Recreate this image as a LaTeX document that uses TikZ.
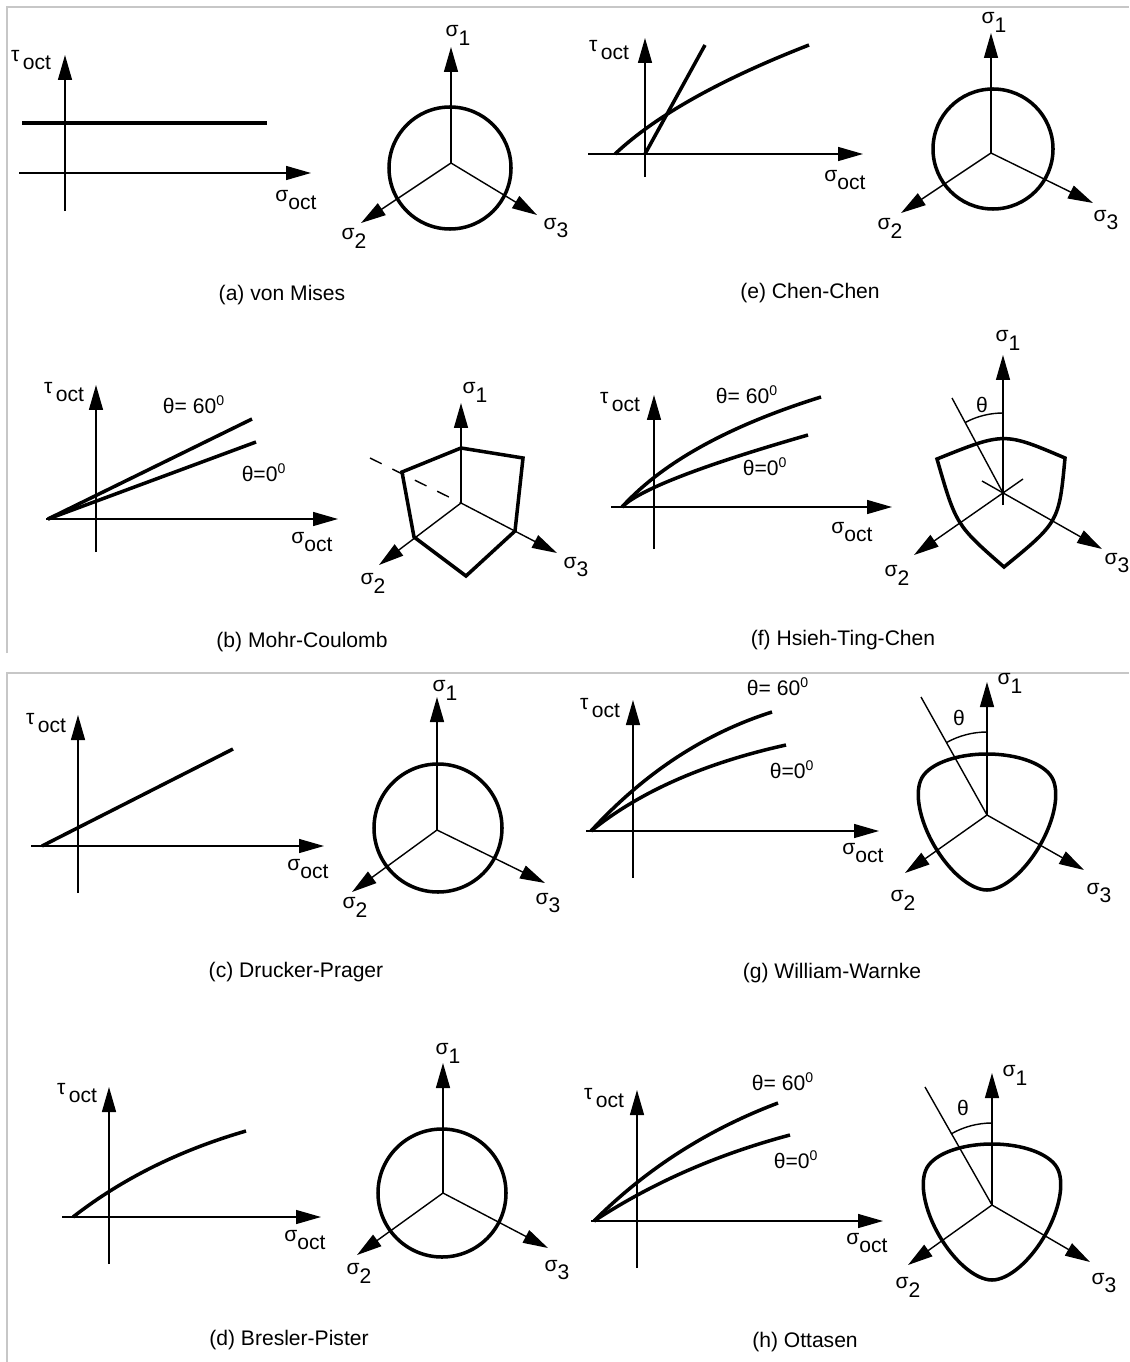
\documentclass[tikz,border=0pt]{standalone}
\usepackage{fontspec}
\setmainfont{Liberation Sans}
\usetikzlibrary{arrows.meta, calc}

\newcommand{\gsub}[2]{#1\raisebox{-0.8ex}{#2}}

\begin{document}
\begin{tikzpicture}[x=0.02cm, y=-0.02cm, font=\fontsize{12}{14}\selectfont,
  ax/.style={line width=0.8pt, -{Triangle[length=5mm, width=2.8mm]}},
  axline/.style={line width=0.8pt},
  yld/.style={line width=2pt, line join=round},
  lbl/.style={inner sep=0pt},
  frm/.style={draw=black!22, line width=0.8pt},
  declare function={lode(\t)=cos(acos(cos(3*(\t-90)))/3);
    wwr(\c)=10*(285.6*\c+35.25*sqrt(76.16*\c*\c+3.05))/(76.16*\c*\c+22.09);}]
\useasboundingbox (0,0) rectangle (1129,1362);
% frames
\draw[frm] (7,653) -- (7,7) -- (1129,7);
\draw[frm] (7,1362) -- (7,673) -- (1129,673);

% (a) von Mises
\coordinate (a-tb) at (65,211);
\coordinate (a-tt) at (65,55);
\coordinate (a-sl) at (19,173);
\coordinate (a-sr) at (311,173);
\draw[ax] (a-tb) -- (a-tt);
\draw[ax] (a-sl) -- (a-sr);
\draw[yld] (22,123) -- (267,123);
\node[lbl] (a-tau) at (31,60) {\gsub{τ\,}{oct}};
\node[lbl] (a-sig) at (296,200) {\gsub{σ}{oct}};
\coordinate (a-o) at (451,163);
\coordinate (a-1) at (451,47);
\coordinate (a-2) at (361,223);
\coordinate (a-3) at (537,215);
\draw[ax] (a-o) -- (a-1);
\draw[ax] (a-o) -- (a-2);
\draw[ax] (a-o) -- (a-3);
\draw[yld] (450,168) circle[radius=61];
\node[lbl] (a-s1) at (458,35) {\gsub{σ}{1}};
\node[lbl] (a-s2) at (354,238) {\gsub{σ}{2}};
\node[lbl] (a-s3) at (556,228) {\gsub{σ}{3}};
\node[lbl] (a-cap) at (282,295) {(a) von Mises};

% (e) Chen-Chen
\coordinate (e-tb) at (645,177);
\coordinate (e-tt) at (645,38);
\coordinate (e-sl) at (588,154);
\coordinate (e-sr) at (863,154);
\draw[ax] (e-tb) -- (e-tt);
\draw[ax] (e-sl) -- (e-sr);
\draw[yld] (645,154) -- (705,45);
\coordinate (e-cs) at (615,154);
\coordinate (e-ct) at (675.5,97);
\coordinate (e-ce) at (809,45);
\draw[yld] (e-cs) .. controls ($(e-cs)!0.667!(e-ct)$) and ($(e-ce)!0.667!(e-ct)$) .. (e-ce);
\node[lbl] (e-tau) at (609,50) {\gsub{τ\,}{oct}};
\node[lbl] (e-sig) at (845,180) {\gsub{σ}{oct}};
\coordinate (e-o) at (991,153);
\coordinate (e-1) at (991,33);
\coordinate (e-2) at (901,213);
\coordinate (e-3) at (1093,203);
\draw[ax] (e-o) -- (e-1);
\draw[ax] (e-o) -- (e-2);
\draw[ax] (e-o) -- (e-3);
\draw[yld] (993,149) circle[radius=60];
\node[lbl] (e-s1) at (994,22) {\gsub{σ}{1}};
\node[lbl] (e-s2) at (890,228) {\gsub{σ}{2}};
\node[lbl] (e-s3) at (1106,220) {\gsub{σ}{3}};
\node[lbl] (e-cap) at (810,293) {(e) Chen-Chen};

% (b) Mohr-Coulomb
\coordinate (b-tb) at (96,552);
\coordinate (b-tt) at (96,385);
\coordinate (b-sl) at (46,519);
\coordinate (b-sr) at (338,519);
\draw[ax] (b-tb) -- (b-tt);
\draw[ax] (b-sl) -- (b-sr);
\draw[yld] (48,519) -- (252,419);
\draw[yld] (48,519) -- (256,442);
\node[lbl] (b-tau) at (64,392) {\gsub{τ\,}{oct}};
\node[lbl] (b-th60) at (194,405) {θ= 60\textsuperscript{0}};
\node[lbl] (b-th0) at (264,473) {θ=0\textsuperscript{0}};
\node[lbl] (b-sig) at (312,542) {\gsub{σ}{oct}};
\coordinate (b-o) at (461,503);
\coordinate (b-1) at (461,403);
\coordinate (b-2) at (379,565);
\coordinate (b-3) at (557,553);
\coordinate (b-d) at (370,458);
\draw[ax] (b-o) -- (b-1);
\draw[ax] (b-o) -- (b-2);
\draw[ax] (b-o) -- (b-3);
\draw[axline, dash pattern=on 2.6mm off 2.4mm] (b-d) -- (b-o);
\draw[yld, line join=miter] (461,448) -- (523,458) -- (515,531) -- (466,576) -- (414,537) -- (402,472) -- cycle;
\node[lbl] (b-s1) at (475,392) {\gsub{σ}{1}};
\node[lbl] (b-s2) at (373,583) {\gsub{σ}{2}};
\node[lbl] (b-s3) at (576,567) {\gsub{σ}{3}};
\node[lbl] (b-cap) at (302,642) {(b) Mohr-Coulomb};

% (f) Hsieh-Ting-Chen
\coordinate (f-tb) at (654,549);
\coordinate (f-tt) at (654,395);
\coordinate (f-sl) at (611,507);
\coordinate (f-sr) at (892,507);
\draw[ax] (f-tb) -- (f-tt);
\draw[ax] (f-sl) -- (f-sr);
\coordinate (f-cs) at (622,507);
\coordinate (f-ct60) at (683,440);
\coordinate (f-ce60) at (821,397);
\coordinate (f-ct0) at (648,481);
\coordinate (f-ce0) at (808,435);
\draw[yld] (f-cs) .. controls ($(f-cs)!0.667!(f-ct60)$) and ($(f-ce60)!0.667!(f-ct60)$) .. (f-ce60);
\draw[yld] (f-cs) .. controls ($(f-cs)!0.667!(f-ct0)$) and ($(f-ce0)!0.667!(f-ct0)$) .. (f-ce0);
\node[lbl] (f-tau) at (620,402) {\gsub{τ\,}{oct}};
\node[lbl] (f-th60) at (747,395) {θ= 60\textsuperscript{0}};
\node[lbl] (f-th0) at (765,467) {θ=0\textsuperscript{0}};
\node[lbl] (f-sig) at (852,532) {\gsub{σ}{oct}};
\coordinate (f-o) at (1003,493);
\coordinate (f-1) at (1003,355);
\coordinate (f-1b) at (1003,505);
\coordinate (f-2) at (914,555);
\coordinate (f-2b) at (1023,479);
\coordinate (f-3) at (1102,549);
\coordinate (f-3b) at (982,481);
\coordinate (f-th) at (952,398);
\draw[ax] (f-1b) -- (f-1);
\draw[ax] (f-2b) -- (f-2);
\draw[ax] (f-3b) -- (f-3);
\draw[axline] (f-th) -- (f-o);
\draw[axline] (1003,413) arc[start angle=-90, end angle=-118, radius=80];
\draw[yld, line join=miter] (1065,458) .. controls (1004,432) .. (937,459)
  .. controls (956,525) .. (1004,567) .. controls (1059,522) .. cycle;
\node[lbl] (f-theta) at (982,405) {θ};
\node[lbl] (f-s1) at (1008,340) {\gsub{σ}{1}};
\node[lbl] (f-s2) at (897,575) {\gsub{σ}{2}};
\node[lbl] (f-s3) at (1117,563) {\gsub{σ}{3}};
\node[lbl] (f-cap) at (843,640) {(f) Hsieh-Ting-Chen};

% (c) Drucker-Prager
\coordinate (c-tb) at (78,893);
\coordinate (c-tt) at (78,715);
\coordinate (c-sl) at (31,846);
\coordinate (c-sr) at (324,846);
\draw[ax] (c-tb) -- (c-tt);
\draw[ax] (c-sl) -- (c-sr);
\draw[yld] (42,846) -- (233,749);
\node[lbl] (c-tau) at (46,723) {\gsub{τ\,}{oct}};
\node[lbl] (c-sig) at (308,869) {\gsub{σ}{oct}};
\coordinate (c-o) at (437,830);
\coordinate (c-1) at (437,697);
\coordinate (c-2) at (352,892);
\coordinate (c-3) at (545,883);
\draw[ax] (c-o) -- (c-1);
\draw[ax] (c-o) -- (c-2);
\draw[ax] (c-o) -- (c-3);
\draw[yld] (438,828) circle[radius=64];
\node[lbl] (c-s1) at (445,690) {\gsub{σ}{1}};
\node[lbl] (c-s2) at (355,907) {\gsub{σ}{2}};
\node[lbl] (c-s3) at (548,903) {\gsub{σ}{3}};
\node[lbl] (c-cap) at (296,972) {(c) Drucker-Prager};

% (g) William-Warnke
\coordinate (g-tb) at (633,878);
\coordinate (g-tt) at (633,700);
\coordinate (g-sl) at (586,831);
\coordinate (g-sr) at (879,831);
\draw[ax] (g-tb) -- (g-tt);
\draw[ax] (g-sl) -- (g-sr);
\coordinate (g-cs) at (591,831);
\coordinate (g-ct60) at (671,744);
\coordinate (g-ce60) at (772,712);
\coordinate (g-ct0) at (664,772);
\coordinate (g-ce0) at (786,745);
\draw[yld] (g-cs) .. controls ($(g-cs)!0.667!(g-ct60)$) and ($(g-ce60)!0.667!(g-ct60)$) .. (g-ce60);
\draw[yld] (g-cs) .. controls ($(g-cs)!0.667!(g-ct0)$) and ($(g-ce0)!0.667!(g-ct0)$) .. (g-ce0);
\node[lbl] (g-tau) at (600,708) {\gsub{τ\,}{oct}};
\node[lbl] (g-th60) at (778,687) {θ= 60\textsuperscript{0}};
\node[lbl] (g-th0) at (792,770) {θ=0\textsuperscript{0}};
\node[lbl] (g-sig) at (863,853) {\gsub{σ}{oct}};
\coordinate (g-o) at (987,815);
\coordinate (g-1) at (987,682);
\coordinate (g-2) at (905,873);
\coordinate (g-3) at (1084,870);
\coordinate (g-th) at (921,697);
\draw[ax] (g-o) -- (g-1);
\draw[ax] (g-o) -- (g-2);
\draw[ax] (g-o) -- (g-3);
\draw[axline] (g-th) -- (g-o);
\draw[axline] (987,732) arc[start angle=-90, end angle=-119, radius=83];
\begin{scope}[shift={(987,815)}, yscale=-1]
\draw[yld] plot[domain=0:360, samples=145, variable=\t]
  ({wwr(lode(\t))*cos(\t)}, {wwr(lode(\t))*sin(\t)}) -- cycle;
\end{scope}
\node[lbl] (g-theta) at (959,718) {θ};
\node[lbl] (g-s1) at (1010,683) {\gsub{σ}{1}};
\node[lbl] (g-s2) at (903,900) {\gsub{σ}{2}};
\node[lbl] (g-s3) at (1099,893) {\gsub{σ}{3}};
\node[lbl] (g-cap) at (832,973) {(g) William-Warnke};

% (d) Bresler-Pister
\coordinate (d-tb) at (109,1264);
\coordinate (d-tt) at (109,1087);
\coordinate (d-sl) at (62,1217);
\coordinate (d-sr) at (321,1217);
\draw[ax] (d-tb) -- (d-tt);
\draw[ax] (d-sl) -- (d-sr);
\coordinate (d-cs) at (73,1217);
\coordinate (d-ct) at (146,1160);
\coordinate (d-ce) at (246,1131);
\draw[yld] (d-cs) .. controls ($(d-cs)!0.667!(d-ct)$) and ($(d-ce)!0.667!(d-ct)$) .. (d-ce);
\node[lbl] (d-tau) at (77,1093) {\gsub{τ\,}{oct}};
\node[lbl] (d-sig) at (305,1240) {\gsub{σ}{oct}};
\coordinate (d-o) at (443,1193);
\coordinate (d-1) at (443,1063);
\coordinate (d-2) at (357,1255);
\coordinate (d-3) at (548,1248);
\draw[ax] (d-o) -- (d-1);
\draw[ax] (d-o) -- (d-2);
\draw[ax] (d-o) -- (d-3);
\draw[yld] (442,1193) circle[radius=64];
\node[lbl] (d-s1) at (448,1053) {\gsub{σ}{1}};
\node[lbl] (d-s2) at (359,1273) {\gsub{σ}{2}};
\node[lbl] (d-s3) at (557,1270) {\gsub{σ}{3}};
\node[lbl] (d-cap) at (289,1340) {(d) Bresler-Pister};

% (h) Ottasen
\coordinate (h-tb) at (637,1268);
\coordinate (h-tt) at (637,1090);
\coordinate (h-sl) at (591,1221);
\coordinate (h-sr) at (883,1221);
\draw[ax] (h-tb) -- (h-tt);
\draw[ax] (h-sl) -- (h-sr);
\coordinate (h-cs) at (594,1221);
\coordinate (h-ct60) at (672,1143);
\coordinate (h-ce60) at (778,1103);
\coordinate (h-ct0) at (681,1164);
\coordinate (h-ce0) at (790,1135);
\draw[yld] (h-cs) .. controls ($(h-cs)!0.667!(h-ct60)$) and ($(h-ce60)!0.667!(h-ct60)$) .. (h-ce60);
\draw[yld] (h-cs) .. controls ($(h-cs)!0.667!(h-ct0)$) and ($(h-ce0)!0.667!(h-ct0)$) .. (h-ce0);
\node[lbl] (h-tau) at (604,1098) {\gsub{τ\,}{oct}};
\node[lbl] (h-th60) at (783,1082) {θ= 60\textsuperscript{0}};
\node[lbl] (h-th0) at (796,1160) {θ=0\textsuperscript{0}};
\node[lbl] (h-sig) at (867,1243) {\gsub{σ}{oct}};
\coordinate (h-o) at (992,1205);
\coordinate (h-1) at (992,1073);
\coordinate (h-2) at (908,1265);
\coordinate (h-3) at (1090,1262);
\coordinate (h-th) at (925,1087);
\draw[ax] (h-o) -- (h-1);
\draw[ax] (h-o) -- (h-2);
\draw[ax] (h-o) -- (h-3);
\draw[axline] (h-th) -- (h-o);
\draw[axline] (992,1123) arc[start angle=-90, end angle=-120, radius=82];
\begin{scope}[shift={(992,1205)}, yscale=-1]
\draw[yld] plot[domain=0:360, samples=145, variable=\t]
  ({wwr(lode(\t))*cos(\t)}, {wwr(lode(\t))*sin(\t)}) -- cycle;
\end{scope}
\node[lbl] (h-theta) at (963,1108) {θ};
\node[lbl] (h-s1) at (1015,1075) {\gsub{σ}{1}};
\node[lbl] (h-s2) at (908,1287) {\gsub{σ}{2}};
\node[lbl] (h-s3) at (1104,1283) {\gsub{σ}{3}};
\node[lbl] (h-cap) at (805,1342) {(h) Ottasen};
\end{tikzpicture}
\end{document}
